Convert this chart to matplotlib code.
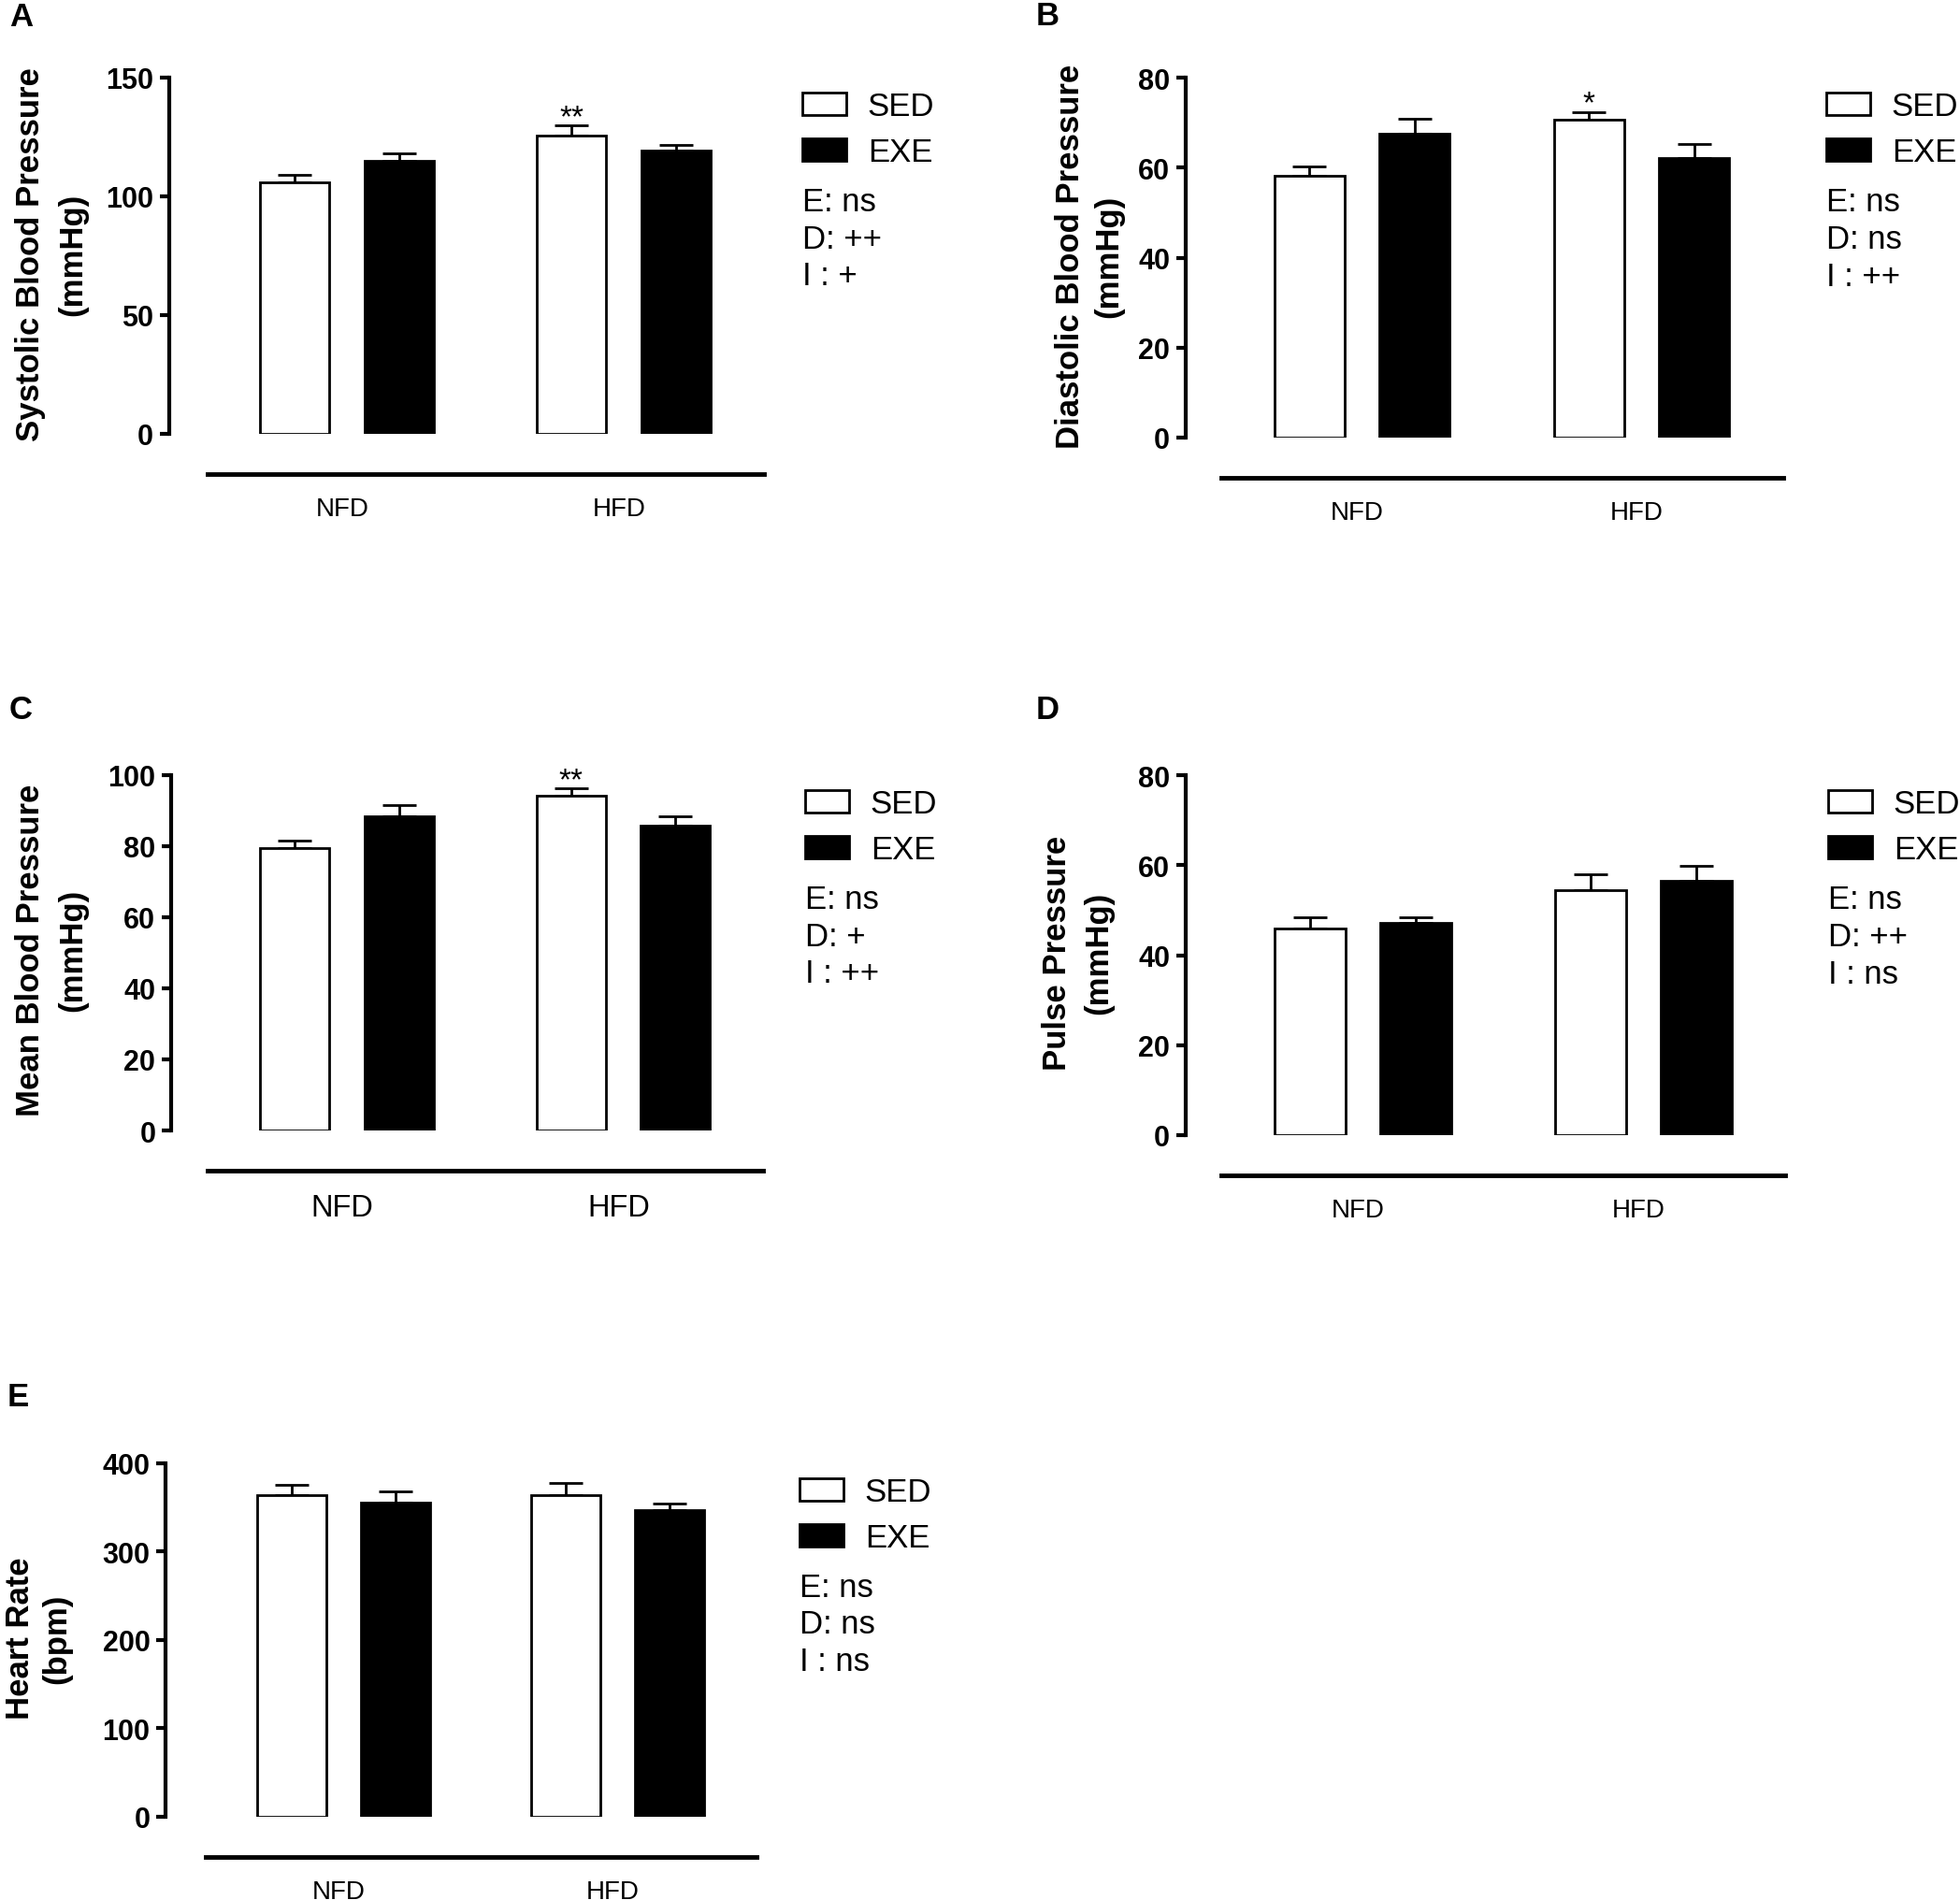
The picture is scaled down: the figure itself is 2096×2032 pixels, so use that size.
import matplotlib
matplotlib.use("Agg")
import matplotlib.pyplot as plt
import matplotlib.transforms as mtransforms
from matplotlib.patches import Patch
import numpy as np

plt.rcParams['font.family'] = ['Liberation Sans', 'DejaVu Sans']

# ---------------- data ----------------
groups = ["NFD", "HFD"]
series_names = ["SED", "EXE"]

sbp_sed = [105.7, 125.4]
sbp_sed_err = [3.3, 4.3]
sbp_exe = [115.0, 119.0]
sbp_exe_err = [3.0, 2.4]
sbp_stars = ["", "**"]
sbp_stats = ["E: ns", "D: ++", "I : +"]

dbp_sed = [58.1, 70.7]
dbp_sed_err = [2.1, 1.7]
dbp_exe = [67.5, 62.1]
dbp_exe_err = [3.4, 3.1]
dbp_stars = ["", "*"]
dbp_stats = ["E: ns", "D: ns", "I : ++"]

mbp_sed = [79.3, 94.0]
mbp_sed_err = [2.3, 2.1]
mbp_exe = [88.2, 85.6]
mbp_exe_err = [3.2, 2.6]
mbp_stars = ["", "**"]
mbp_stats = ["E: ns", "D: +", "I : ++"]

pp_sed = [46.0, 54.4]
pp_sed_err = [2.4, 3.6]
pp_exe = [47.2, 56.5]
pp_exe_err = [1.3, 3.3]
pp_stars = ["", ""]
pp_stats = ["E: ns", "D: ++", "I : ns"]

hr_sed = [364.0, 364.0]
hr_sed_err = [11.2, 13.2]
hr_exe = [355.5, 347.0]
hr_exe_err = [12.4, 6.6]
hr_stars = ["", ""]
hr_stats = ["E: ns", "D: ns", "I : ns"]

ylabels = [("Systolic Blood Pressure", "(mmHg)"),
           ("Diastolic Blood Pressure", "(mmHg)"),
           ("Mean Blood Pressure", "(mmHg)"),
           ("Pulse Pressure", "(mmHg)"),
           ("Heart Rate", "(bpm)")]
yticks_list = [[0, 50, 100, 150], [0, 20, 40, 60, 80], [0, 20, 40, 60, 80, 100],
               [0, 20, 40, 60, 80], [0, 100, 200, 300, 400]]
panel_letters = ["A", "B", "C", "D", "E"]

# ---------------- layout (pixels) ----------------
W, H = 2096, 2033
fig = plt.figure(figsize=(W / 100, H / 100), dpi=100)

layout = [
    dict(left=180.5, g0=371, sp=296, top=83.5, y0=465, lx=858, yb=(42.5, 87), yc=272,
         ltx=10, lty=28, xfs=20),
    dict(left=1267.6, g0=1456.5, sp=299, top=84, y0=469, lx=1953, yb=(1154, 1195), yc=274,
         ltx=1108, lty=27, xfs=20),
    dict(left=182.7, g0=371, sp=295.5, top=829.6, y0=1210, lx=861, yb=(42.5, 87), yc=1016,
         ltx=10, lty=769, xfs=23.5),
    dict(left=1267.6, g0=1457.5, sp=300, top=830, y0=1215, lx=1955, yb=(1139.5, 1184), yc=1019,
         ltx=1108, lty=769, xfs=20),
    dict(left=177, g0=367.5, sp=293, top=1565.5, y0=1944, lx=855, yb=(31.5, 70), yc=1752.5,
         ltx=8, lty=1504, xfs=20),
]

panel_data = [
    (sbp_sed, sbp_sed_err, sbp_exe, sbp_exe_err, sbp_stars, sbp_stats),
    (dbp_sed, dbp_sed_err, dbp_exe, dbp_exe_err, dbp_stars, dbp_stats),
    (mbp_sed, mbp_sed_err, mbp_exe, mbp_exe_err, mbp_stars, mbp_stats),
    (pp_sed, pp_sed_err, pp_exe, pp_exe_err, pp_stars, pp_stats),
    (hr_sed, hr_sed_err, hr_exe, hr_exe_err, hr_stars, hr_stats),
]

off = 0.1886
bw = 0.251
xr = 1.507
fs_txt = 25
fs_px = fs_txt * 100 / 72.0
label_shift = mtransforms.ScaledTranslation(-5 / 100, 0, fig.dpi_scale_trans)

for i, (L, D) in enumerate(zip(layout, panel_data)):
    sed, sed_err, exe, exe_err, stars, stats = D
    xl = -(L['g0'] - L['left']) / L['sp']
    width = (xr - xl) * L['sp']
    ax = fig.add_axes([L['left'] / W, 1 - L['y0'] / H, width / W, (L['y0'] - L['top']) / H])
    x = np.arange(len(groups))
    ax.bar(x - off, sed, bw, color='white', edgecolor='black', linewidth=2, zorder=3,
           label=series_names[0])
    ax.bar(x + off, exe, bw, color='black', edgecolor='black', linewidth=2, zorder=3,
           label=series_names[1])
    ax.errorbar(x - off, sed, yerr=[np.zeros(len(sed)), sed_err], fmt='none', ecolor='black',
                elinewidth=2, capsize=13, capthick=2, zorder=2)
    ax.errorbar(x + off, exe, yerr=[np.zeros(len(exe)), exe_err], fmt='none', ecolor='black',
                elinewidth=2, capsize=13, capthick=2, zorder=2)
    for xi, m, e, s in zip(x - off, sed, sed_err, stars):
        if s:
            ax.annotate(s, (xi, m + e), xytext=(0, 0), textcoords='offset points',
                        ha='center', va='baseline', fontsize=24, annotation_clip=False)

    yt = yticks_list[i]
    ax.set_xlim(xl, xr)
    ax.set_ylim(yt[0], yt[-1])
    ax.set_yticks(yt)
    ax.set_xticks(x)
    ax.set_xticklabels(groups)
    for sp_name in ('top', 'right'):
        ax.spines[sp_name].set_visible(False)
    ax.spines['left'].set_linewidth(3)
    ax.spines['bottom'].set_linewidth(3.5)
    ax.spines['bottom'].set_position(('outward', 31))
    ax.spines['bottom'].set_bounds(-0.504, 1.506)
    ax.tick_params(axis='y', length=7, width=3, pad=4.8, labelsize=22)
    ax.tick_params(axis='x', length=0, pad=17, labelsize=L['xfs'])
    for lbl in ax.get_yticklabels():
        lbl.set_fontweight('bold')
    for lbl in ax.get_xticklabels():
        lbl.set_transform(lbl.get_transform() + label_shift)

    # legend
    handles = [Patch(facecolor='white', edgecolor='black', linewidth=2),
               Patch(facecolor='black', edgecolor='black', linewidth=2)]
    ax.legend(handles, series_names, loc='upper left',
              bbox_to_anchor=(L['lx'] / W, 1 - (L['top'] + 14.5) / H),
              bbox_transform=fig.transFigure, frameon=False, fontsize=fs_txt,
              borderpad=0, borderaxespad=0, handlelength=47 / fs_px,
              handleheight=23.5 / fs_px, handletextpad=22.8 / fs_px,
              labelspacing=15.8 / fs_px)

    # stats text
    for k, s in enumerate(stats):
        fig.text(L['lx'] / W, 1 - (L['top'] + 142.5 + 39.5 * k) / H, s,
                 fontsize=fs_txt, ha='left', va='baseline')

    # y label (two lines)
    l1, l2 = ylabels[i]
    fig.text(L['yb'][0] / W, 1 - L['yc'] / H, l1, rotation=90, rotation_mode='anchor',
             ha='center', va='baseline', fontsize=25, fontweight='bold')
    fig.text(L['yb'][1] / W, 1 - L['yc'] / H, l2, rotation=90, rotation_mode='anchor',
             ha='center', va='baseline', fontsize=25, fontweight='bold')

    # panel letter
    fig.text(L['ltx'] / W, 1 - L['lty'] / H, panel_letters[i], fontsize=25,
             fontweight='bold', ha='left', va='baseline')

fig.savefig("out.png", dpi=100, facecolor='white')
